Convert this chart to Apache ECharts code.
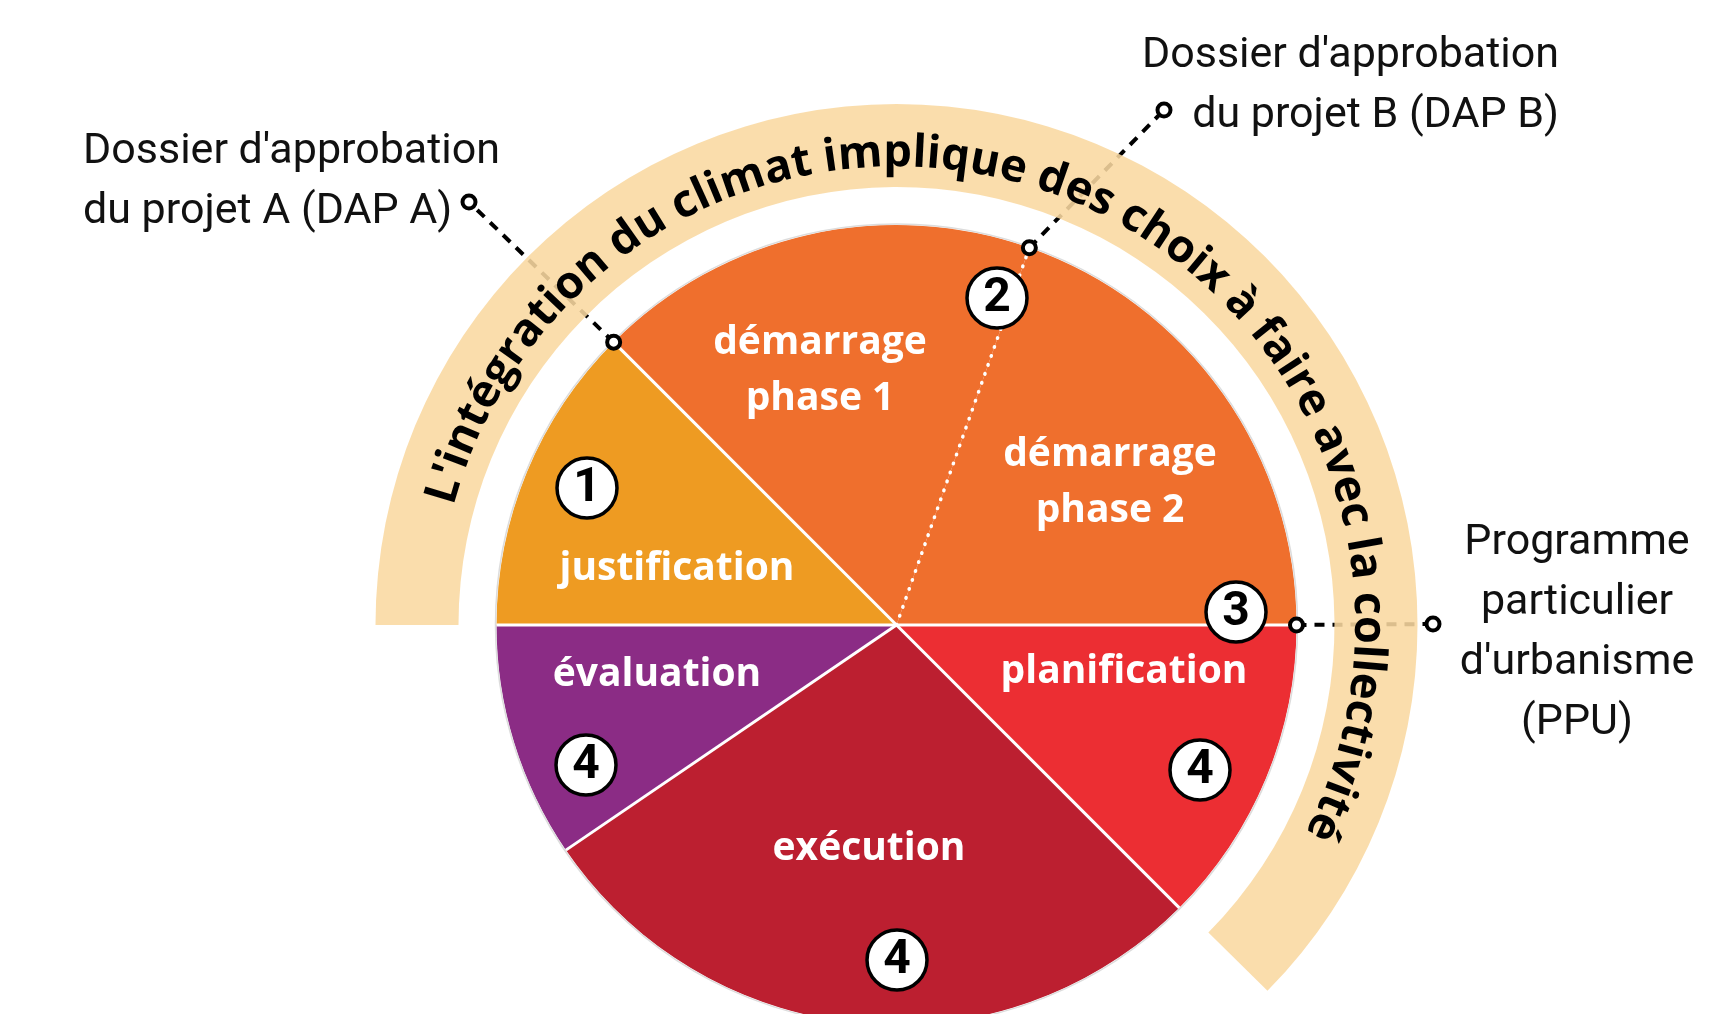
<!DOCTYPE html>
<html>
<head>
<meta charset="utf-8">
<script src="https://cdn.jsdelivr.net/npm/echarts@6/dist/echarts.min.js"></script>
<style>
html,body{margin:0;padding:0;background:#fff;}
#chart{width:1731px;height:1014px;}
</style>
</head>
<body>
<div id="chart"></div>
<script>
// ---------- data ----------
const categories = ['justification', 'démarrage\nphase 1', 'démarrage\nphase 2', 'planification', 'exécution', 'évaluation'];
const sliceDegrees = [45, 64.4, 70.6, 45, 100.75, 34.25];
const badgeNumbers = ['1', '2', '3', '4', '4', '4'];
const arcTitle = "L'intégration du climat implique des choix à faire avec la collectivité";
const annotationTexts = [
  "Dossier d'approbation\ndu projet A (DAP A)",
  "Dossier d'approbation\ndu projet B (DAP B)",
  "Programme\nparticulier\nd'urbanisme\n(PPU)"
];

// ---------- styles / layout ----------
const sliceColors = ['#EE9B22', '#EF6F2D', '#EF6F2D', '#EC2E33', '#BC1F30', '#8B2C85'];
const CX = 896.5, CY = 625, R = 400;
const labelPos = [[677, 569], [820, 371], [1110, 483], [1124, 672], [869, 849], [657, 675]];
const badgePos = [[587, 488], [997, 298], [1236, 612], [586, 765], [1200, 770], [897, 960]];
const sansFam = '"Open Sans", "Noto Sans", sans-serif';
const lightFam = 'Roboto, "Noto Sans", sans-serif';

function polar(deg, r) {
  const a = deg * Math.PI / 180;
  return [CX + r * Math.cos(a), CY - r * Math.sin(a)];
}

// slice boundary angles (math degrees)
const startAngle = 180;
const bounds = [startAngle];
let accDeg = startAngle;
sliceDegrees.forEach(d => { accDeg -= d; bounds.push(accDeg); });

const graphics = [];

// thin outline around pie
graphics.push({ type: 'circle', z: 5, silent: true,
  shape: { cx: CX, cy: CY, r: R + 1 },
  style: { fill: 'none', stroke: '#dcdcdc', lineWidth: 1.5 } });

// separators
for (let i = 0; i < sliceDegrees.length; i++) {
  const ang = bounds[i];
  const prev = categories[(i - 1 + categories.length) % categories.length];
  const cur = categories[i];
  const dotted = prev.startsWith('démarrage') && cur.startsWith('démarrage');
  const p = polar(ang, R);
  graphics.push({ type: 'line', z: 40, silent: true,
    shape: { x1: CX, y1: CY, x2: p[0], y2: p[1] },
    style: dotted ? { stroke: '#fff', lineWidth: 3.5, lineDash: [0.5, 9], lineCap: 'round' }
                  : { stroke: '#fff', lineWidth: 3 } });
}

// annotation leader lines (under the band)
const markerInner = [polar(bounds[1], R), polar(bounds[2], R), polar(bounds[3], R)];
const markerOuter = [[469, 202], [1164, 110], [1433, 624]];
for (let i = 0; i < 3; i++) {
  graphics.push({ type: 'line', z: 10, silent: true,
    shape: { x1: markerInner[i][0], y1: markerInner[i][1], x2: markerOuter[i][0], y2: markerOuter[i][1] },
    style: { stroke: '#000', lineWidth: 4, lineDash: [10, 8] } });
}

// band
graphics.push({ type: 'sector', z: 20, silent: true,
  shape: { cx: CX, cy: CY, r: 521, r0: 438, startAngle: Math.PI, endAngle: Math.PI * 2 + Math.PI * 44.6 / 180, clockwise: true },
  style: { fill: '#F9D8A0', opacity: 0.88 } });

// markers
[...markerInner, ...markerOuter].forEach(p => {
  graphics.push({ type: 'circle', z: 50, silent: true,
    shape: { cx: p[0], cy: p[1], r: 6.5 },
    style: { fill: '#fff', stroke: '#000', lineWidth: 4 } });
});

// curved title text
(function () {
  const ctx = document.createElement('canvas').getContext('2d');
  const base = 42;
  ctx.font = 'bold ' + base + 'px ' + sansFam;
  const W = ctx.measureText(arcTitle).width;
  const rBase = 458;
  const a0 = 165, a1 = -27;
  const spanLen = (a0 - a1) * Math.PI / 180 * rBase;
  const fs = base * spanLen / W;
  ctx.font = 'bold ' + fs + 'px ' + sansFam;
  const rMid = rBase + fs * 0.3;
  for (let i = 0; i < arcTitle.length; i++) {
    const ch = arcTitle[i];
    if (ch === ' ') continue;
    const pre = ctx.measureText(arcTitle.slice(0, i)).width;
    const w = ctx.measureText(ch).width;
    const mid = pre + w / 2;
    const ang = a0 - (mid / rBase) * 180 / Math.PI;
    const p = polar(ang, rMid);
    graphics.push({ type: 'text', z: 30, silent: true,
      x: p[0], y: p[1], rotation: (ang - 90) * Math.PI / 180,
      style: { text: ch, fill: '#000', fontFamily: sansFam, fontWeight: 'bold', fontSize: fs,
               align: 'center', verticalAlign: 'middle' } });
  }
})();

// slice labels
categories.forEach((c, i) => {
  graphics.push({ type: 'text', z: 50, silent: true,
    x: labelPos[i][0], y: labelPos[i][1],
    style: { text: c, fill: '#fff', fontFamily: sansFam, fontWeight: 'bold', fontSize: 39,
             lineHeight: 56, align: 'center', verticalAlign: 'middle' } });
});

// badges
badgeNumbers.forEach((n, i) => {
  const p = badgePos[i];
  graphics.push({ type: 'circle', z: 50, silent: true,
    shape: { cx: p[0], cy: p[1], r: 30 },
    style: { fill: '#fff', stroke: '#000', lineWidth: 3.5 } });
  graphics.push({ type: 'text', z: 51, silent: true,
    x: p[0], y: p[1] + 1,
    style: { text: n, fill: '#000', fontFamily: lightFam, fontWeight: 'bold', fontSize: 48,
             align: 'center', verticalAlign: 'middle' } });
});

// annotation texts
graphics.push({ type: 'text', z: 50, silent: true, x: 83, y: 182,
  style: { text: annotationTexts[0], fill: '#111', fontFamily: lightFam, fontSize: 43, lineHeight: 60,
           align: 'left', verticalAlign: 'middle' } });
graphics.push({ type: 'text', z: 50, silent: true, x: 1559, y: 86,
  style: { text: annotationTexts[1], fill: '#111', fontFamily: lightFam, fontSize: 43, lineHeight: 60,
           align: 'right', verticalAlign: 'middle' } });
graphics.push({ type: 'text', z: 50, silent: true, x: 1577, y: 633,
  style: { text: annotationTexts[2], fill: '#111', fontFamily: lightFam, fontSize: 43, lineHeight: 60,
           align: 'center', verticalAlign: 'middle' } });

const chart = echarts.init(document.getElementById('chart'), null, { renderer: 'canvas' });
chart.setOption({
  animation: false,
  backgroundColor: '#fff',
  series: [{
    type: 'pie',
    silent: true,
    center: [CX, CY],
    radius: [0, R],
    startAngle: startAngle,
    clockwise: true,
    label: { show: false },
    labelLine: { show: false },
    itemStyle: { borderWidth: 0 },
    data: categories.map((c, i) => ({ name: c, value: sliceDegrees[i], itemStyle: { color: sliceColors[i] } }))
  }],
  graphic: { elements: graphics }
});
</script>
</body>
</html>
